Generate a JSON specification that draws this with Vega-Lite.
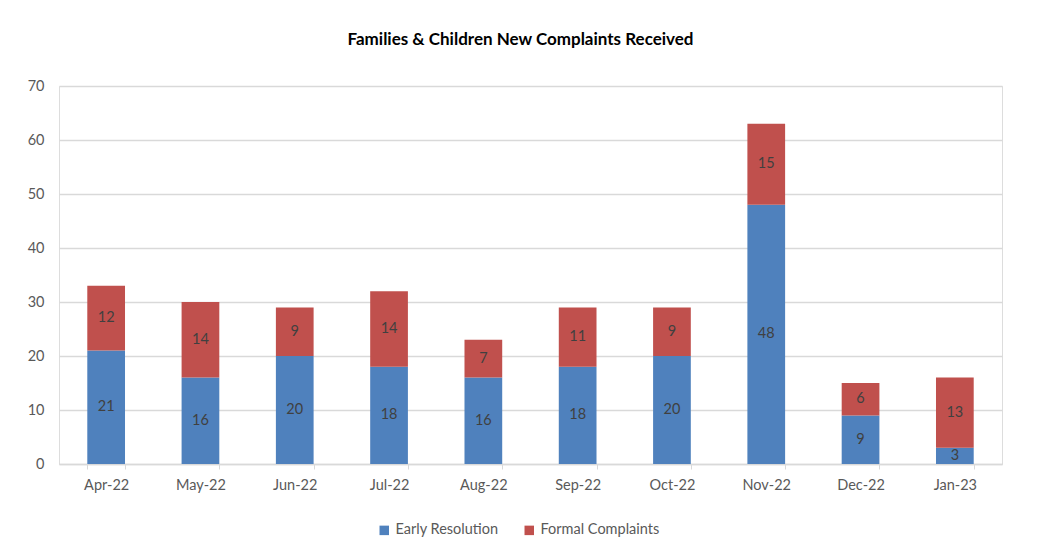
{
  "$schema": "https://vega.github.io/schema/vega-lite/v6.json",
  "autosize": "none",
  "width": 943,
  "height": 378,
  "padding": {"left": 59, "top": 86, "right": 35, "bottom": 92},
  "background": "white",
  "title": {"text": "Families & Children New Complaints Received", "fontSize": 17, "fontWeight": "bold", "font": "Lato", "color": "#000000", "offset": 29, "anchor": "middle", "dx": -10},
  "data": {"values": [
    {"month": "Apr-22", "series": "Early Resolution", "value": 21},
    {"month": "Apr-22", "series": "Formal Complaints", "value": 12},
    {"month": "May-22", "series": "Early Resolution", "value": 16},
    {"month": "May-22", "series": "Formal Complaints", "value": 14},
    {"month": "Jun-22", "series": "Early Resolution", "value": 20},
    {"month": "Jun-22", "series": "Formal Complaints", "value": 9},
    {"month": "Jul-22", "series": "Early Resolution", "value": 18},
    {"month": "Jul-22", "series": "Formal Complaints", "value": 14},
    {"month": "Aug-22", "series": "Early Resolution", "value": 16},
    {"month": "Aug-22", "series": "Formal Complaints", "value": 7},
    {"month": "Sep-22", "series": "Early Resolution", "value": 18},
    {"month": "Sep-22", "series": "Formal Complaints", "value": 11},
    {"month": "Oct-22", "series": "Early Resolution", "value": 20},
    {"month": "Oct-22", "series": "Formal Complaints", "value": 9},
    {"month": "Nov-22", "series": "Early Resolution", "value": 48},
    {"month": "Nov-22", "series": "Formal Complaints", "value": 15},
    {"month": "Dec-22", "series": "Early Resolution", "value": 9},
    {"month": "Dec-22", "series": "Formal Complaints", "value": 6},
    {"month": "Jan-23", "series": "Early Resolution", "value": 3},
    {"month": "Jan-23", "series": "Formal Complaints", "value": 13}
  ]},
  "transform": [
    {"stack": "value", "groupby": ["month"], "sort": [{"field": "series", "order": "ascending"}], "as": ["v0", "v1"]},
    {"calculate": "(datum.v0 + datum.v1) / 2", "as": "mid"}
  ],
  "encoding": {
    "x": {"field": "month", "type": "nominal", "sort": null,
      "scale": {"paddingInner": 0.6, "paddingOuter": 0.3},
      "axis": {"title": null, "labelAngle": 0, "labelFontSize": 14.5, "labelFont": "Lato", "labelColor": "#595959",
        "domainColor": "#d9d9d9", "domainWidth": 1.5, "tickColor": "#d9d9d9", "tickSize": 5, "tickBand": "extent", "labelPadding": 9, "grid": false}}
  },
  "layer": [
    {
      "mark": {"type": "bar"},
      "encoding": {
        "y": {"field": "v1", "type": "quantitative",
          "scale": {"domain": [0, 70]},
          "axis": {"title": null, "values": [0,10,20,30,40,50,60,70], "labelFontSize": 14.5, "labelFont": "Lato", "labelColor": "#595959",
            "domain": false, "ticks": false, "labelPadding": 15, "gridColor": "#d9d9d9", "gridWidth": 1.5}},
        "y2": {"field": "v0"},
        "color": {"field": "series", "type": "nominal",
          "scale": {"domain": ["Early Resolution", "Formal Complaints"], "range": ["#4F81BD", "#C0504D"]},
          "legend": {"title": null, "orient": "none", "legendX": 318, "legendY": 437, "direction": "horizontal",
            "symbolType": "square", "symbolSize": 90, "symbolStrokeWidth": 0, "labelFontSize": 14.5, "labelFont": "Lato", "labelColor": "#595959", "columnPadding": 23, "labelOffset": 4}}
      }
    },
    {
      "mark": {"type": "text", "fontSize": 14.5, "font": "Lato", "color": "#404040", "baseline": "middle"},
      "encoding": {
        "y": {"field": "mid", "type": "quantitative"},
        "text": {"field": "value", "type": "quantitative"}
      }
    }
  ]
}
